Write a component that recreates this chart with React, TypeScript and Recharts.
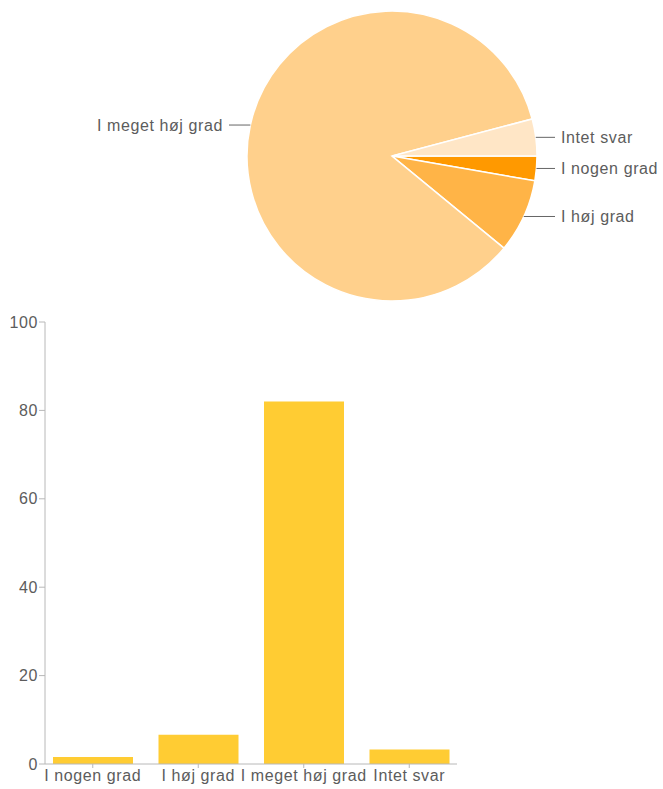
import React from 'react';
import { PieChart, Pie, Cell, BarChart, Bar, XAxis, YAxis } from 'recharts';

// svarkategorier (samme rækkefølge i begge diagrammer)
const CATEGORIES = ['I nogen grad', 'I høj grad', 'I meget høj grad', 'Intet svar'];

// antal svar (cirkeldiagram)
const PIE_COUNTS = [2, 6, 62, 3];

// procent (søjlediagram)
const BAR_PERCENT = [1.6, 6.6, 82, 3.3];

const Y_TICKS = [0, 20, 40, 60, 80, 100];

const PIE_COLORS = ['#FF9900', '#FFB447', '#FFD08C', '#FFE6C6'];
const BAR_COLOR = '#FFCC33';
const TEXT_COLOR = '#5c5c5c';
const AXIS_COLOR = '#b8b8b8';
const FONT = "Arial, 'Liberation Sans', Helvetica, sans-serif";

const pieData = CATEGORIES.map((name, i) => ({ name, value: PIE_COUNTS[i] }));
const barData = CATEGORIES.map((name, i) => ({ name, value: BAR_PERCENT[i] }));

const textStyle = { fontFamily: FONT, fontSize: 16, letterSpacing: 0.6 };

/** label med vandret streg ud fra kanten */
const renderPieLabel = (props: any) => {
  const RADIAN = Math.PI / 180;
  const { cx, cy, midAngle, outerRadius, name } = props;
  const cos = Math.cos(-midAngle * RADIAN);
  const sin = Math.sin(-midAngle * RADIAN);
  const sx = cx + outerRadius * cos;
  const sy = cy + outerRadius * sin;
  const right = cos >= 0;
  const ex = cx + (right ? 1 : -1) * (outerRadius + 18);
  return (
    <g>
      <line x1={sx} y1={sy} x2={ex} y2={sy} stroke="#666" strokeWidth={1} />
      <text
        x={ex + (right ? 6 : -6)}
        y={sy}
        textAnchor={right ? 'start' : 'end'}
        dominantBaseline="central"
        fill={TEXT_COLOR}
        style={textStyle}
      >
        {name}
      </text>
    </g>
  );
};

export default function App() {
  return (
    <div style={{ position: 'absolute', left: 0, top: 0, width: 663, height: 789, background: '#fff' }}>
      <div style={{ position: 'absolute', left: 0, top: 0 }}>
        <PieChart width={663} height={310} margin={{ top: 0, right: 0, bottom: 0, left: 0 }}>
          <Pie
            data={pieData}
            dataKey="value"
            nameKey="name"
            cx={392}
            cy={156}
            outerRadius={145}
            startAngle={0}
            endAngle={-360}
            stroke="#fff"
            strokeWidth={1.5}
            labelLine={false}
            label={renderPieLabel}
            isAnimationActive={false}
          >
            {pieData.map((_, i) => (
              <Cell key={`c-${i}`} fill={PIE_COLORS[i]} />
            ))}
          </Pie>
        </PieChart>
      </div>

      <div style={{ position: 'absolute', left: 0, top: 300 }}>
        <BarChart
          width={663}
          height={489}
          data={barData}
          margin={{ top: 22, right: 206, bottom: 5, left: 5 }}
          barSize={80}
        >
          <XAxis
            dataKey="name"
            height={20}
            interval={0}
            padding={{ left: -5, right: -5 }}
            tickSize={4}
            tickMargin={2}
            stroke={AXIS_COLOR}
            tick={{ fill: TEXT_COLOR, ...textStyle }}
          />
          <YAxis
            width={40}
            domain={[0, 100]}
            ticks={Y_TICKS}
            tickSize={6}
            tickMargin={1}
            stroke={AXIS_COLOR}
            tick={{ fill: TEXT_COLOR, ...textStyle }}
          />
          <Bar dataKey="value" fill={BAR_COLOR} isAnimationActive={false} />
        </BarChart>
      </div>
    </div>
  );
}
